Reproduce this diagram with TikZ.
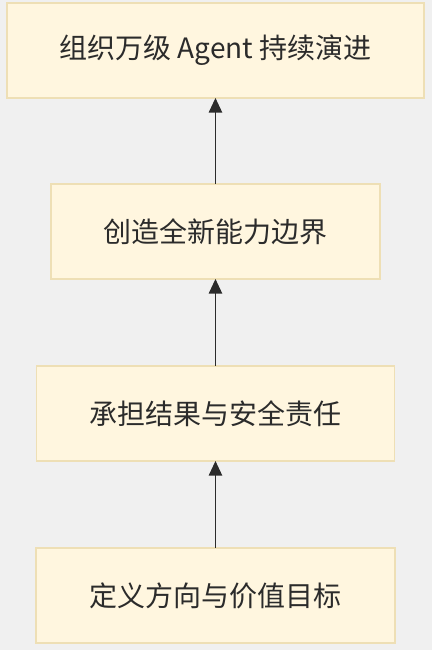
\documentclass[tikz,border=0pt]{standalone}
\usepackage{fontspec}
\setmainfont{Noto Sans CJK SC}
\usetikzlibrary{positioning, arrows.meta}
\definecolor{boxfill}{HTML}{FFF6DF}
\definecolor{boxline}{HTML}{EEDFB5}
\definecolor{bgcolor}{HTML}{F0F0F0}
\definecolor{inkcolor}{HTML}{2B2B2B}
\tikzstyle{level} = [
    rectangle,
    minimum height=71.25pt,
    outer sep=0pt,
    text centered,
    draw=boxline,
    line width=0.8pt,
    fill=boxfill,
    text=inkcolor,
    font=\fontsize{21pt}{25pt}\selectfont
]
\tikzstyle{arrow} = [
    line width=1.2pt,
    draw=inkcolor,
    -{Triangle[length=11pt, width=10pt]}
]

\begin{document}
\begin{tikzpicture}
        \fill[bgcolor] (0,0) rectangle (324pt,-487.5pt);
        \useasboundingbox (0,0) rectangle (324pt,-487.5pt);

        \node (goal) [level, minimum width=269.25pt] at (161.6pt,-446.6pt) {定义方向与价值目标};
        \node (duty) [level, minimum width=268.5pt, above=65.25pt of goal] {承担结果与安全责任};
        \node (create) [level, minimum width=246.75pt, above=65.25pt of duty] {创造全新能力边界};
        \node (evolve) [level, minimum width=312.75pt, above=64.5pt of create] {组织万级 Agent 持续演进};

        \draw[arrow] (goal) -- (duty);
        \draw[arrow] (duty) -- (create);
        \draw[arrow] (create) -- (evolve);
    \end{tikzpicture}
\end{document}
